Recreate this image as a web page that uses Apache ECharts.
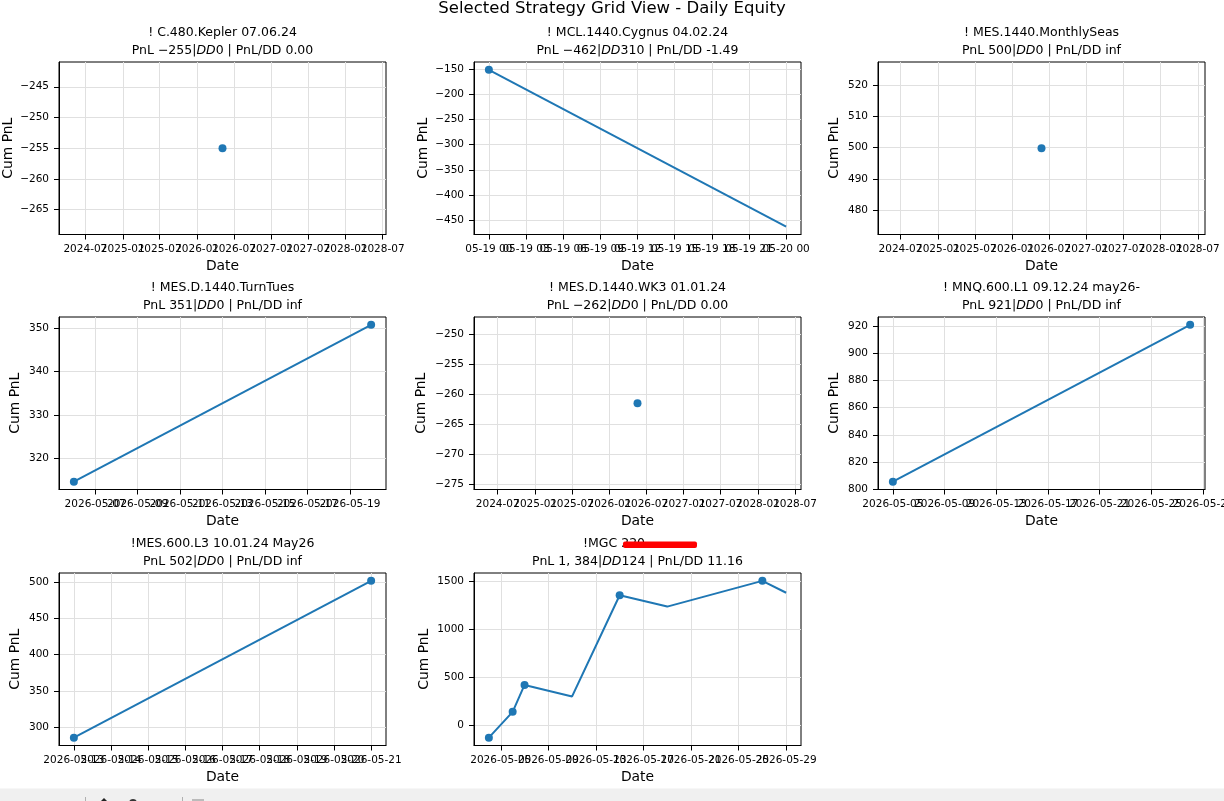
<!DOCTYPE html>
<html lang="en">
<head>
<meta charset="UTF-8">
<title>Selected Strategy Grid View - Daily Equity</title>
<style>
  html, body { margin: 0; padding: 0; background: #fff; }
  #main { width: 1224px; height: 801px; }
</style>
</head>
<body>
<div id="main"></div>
<script src="https://cdn.jsdelivr.net/npm/echarts@6/dist/echarts.min.js"></script>
<script>
// strategy headers, one per subplot (reading order)
var names = ['! C.480.Kepler 07.06.24', '! MCL.1440.Cygnus 04.02.24', '! MES.1440.MonthlySeas',
             '! MES.D.1440.TurnTues', '! MES.D.1440.WK3 01.01.24', '! MNQ.600.L1 09.12.24 may26-',
             '!MES.600.L3 10.01.24 May26', '!MGC 220'];
var pnlText   = ['\u2212255', '\u2212462', '500', '351', '\u2212262', '921', '502', '1, 384'];
var ddText    = ['0', '310', '0', '0', '0', '0', '0', '124'];
var ratioText = ['0.00', '-1.49', 'inf', 'inf', '0.00', 'inf', 'inf', '11.16'];

// daily equity per strategy, marks = 1 where a dot is drawn
var dates1 = ['2026-05-06'];
var cum1   = [-255];
var marks1 = [1];

var dates2 = ['2026-05-19 00:00', '2026-05-20 00:00'];
var cum2   = [-152, -462];
var marks2 = [1, 0];

var dates3 = ['2026-05-25'];
var cum3   = [499.8];
var marks3 = [1];

var dates4 = ['2026-05-06', '2026-05-20'];
var cum4   = [314.7, 350.7];
var marks4 = [1, 1];

var dates5 = ['2026-05-19'];
var cum5   = [-261.5];
var marks5 = [1];

var dates6 = ['2026-05-05', '2026-05-28'];
var cum6   = [805.6, 920.7];
var marks6 = [1, 1];

var dates7 = ['2026-05-13', '2026-05-21'];
var cum7   = [285.9, 501.6];
var marks7 = [1, 1];

var dates8 = ['2026-05-04', '2026-05-06', '2026-05-07', '2026-05-11', '2026-05-15', '2026-05-19', '2026-05-27', '2026-05-29'];
var cum8   = [-124, 145, 425, 305, 1358, 1240, 1508, 1384];
var marks8 = [1, 1, 1, 0, 1, 0, 1, 0];

// tick labels
var monthTicks = ['2024-07', '2025-01', '2025-07', '2026-01', '2026-07', '2027-01', '2027-07', '2028-01', '2028-07'];
var hourTicks  = ['05-19 00', '05-19 03', '05-19 06', '05-19 09', '05-19 12', '05-19 15', '05-19 18', '05-19 21', '05-20 00'];
var dayTicks2  = ['2026-05-07', '2026-05-09', '2026-05-11', '2026-05-13', '2026-05-15', '2026-05-17', '2026-05-19'];
var dayTicks4  = ['2026-05-05', '2026-05-09', '2026-05-13', '2026-05-17', '2026-05-21', '2026-05-25', '2026-05-29'];
var dayTicks1  = ['2026-05-13', '2026-05-14', '2026-05-15', '2026-05-16', '2026-05-17', '2026-05-18', '2026-05-19', '2026-05-20', '2026-05-21'];

var yTicks1 = [-265, -260, -255, -250, -245];
var yTicks2 = [-450, -400, -350, -300, -250, -200, -150];
var yTicks3 = [480, 490, 500, 510, 520];
var yTicks4 = [320, 330, 340, 350];
var yTicks5 = [-275, -270, -265, -260, -255, -250];
var yTicks6 = [800, 820, 840, 860, 880, 900, 920];
var yTicks7 = [300, 350, 400, 450, 500];
var yTicks8 = [0, 500, 1000, 1500];

var panels = [
  {dates: dates1, cum: cum1, marks: marks1, xt: monthTicks, yt: yTicks1},
  {dates: dates2, cum: cum2, marks: marks2, xt: hourTicks,  yt: yTicks2},
  {dates: dates3, cum: cum3, marks: marks3, xt: monthTicks, yt: yTicks3},
  {dates: dates4, cum: cum4, marks: marks4, xt: dayTicks2,  yt: yTicks4},
  {dates: dates5, cum: cum5, marks: marks5, xt: monthTicks, yt: yTicks5},
  {dates: dates6, cum: cum6, marks: marks6, xt: dayTicks4,  yt: yTicks6},
  {dates: dates7, cum: cum7, marks: marks7, xt: dayTicks1,  yt: yTicks7},
  {dates: dates8, cum: cum8, marks: marks8, xt: dayTicks4,  yt: yTicks8}
];

// layout
var colLeft = [59, 474, 878];
var rowTop = [62, 317, 573];
var plotW = 327, plotH = 172.5;
var yNameGap = [44, 44, 37, 37, 46, 37, 37, 43];
var TICK_FONT = 10.5;
var BLUE = '#1f77b4';
var DAY = 86400000;

function toTime(s) {
  var p = s.split(/[- :]/);
  return Date.UTC(+p[0], p[1] - 1, +p[2], +(p[3] || 0), +(p[4] || 0));
}
function tickTime(lbl) {
  var p = lbl.split(/[- ]/);
  if (lbl.length === 7) return Date.UTC(+p[0], p[1] - 1, 1);        // YYYY-MM
  if (lbl.length === 8) return Date.UTC(2026, p[0] - 1, +p[1], +p[2]); // MM-DD HH (year of the data)
  return Date.UTC(+p[0], p[1] - 1, +p[2]);                           // YYYY-MM-DD
}
function fmtNum(v) { return v < 0 ? '\u2212' + Math.abs(v) : String(v); }

// same autoscale as matplotlib: expand a single value, then 5% margins
function range(vals, single) {
  var lo = Math.min.apply(null, vals), hi = Math.max.apply(null, vals);
  if (lo === hi) { var e = single(lo); lo -= e; hi += e; }
  var m = (hi - lo) * 0.05;
  return [lo - m, hi + m];
}

var titles = [{
  text: 'Selected Strategy Grid View - Daily Equity',
  left: 612, top: 0, textAlign: 'center', padding: 0,
  textStyle: {fontSize: 16.5, fontWeight: 'normal', color: '#000', lineHeight: 17}
}];
var grids = [], xAxes = [], yAxes = [], series = [];

panels.forEach(function (p, i) {
  var r = Math.floor(i / 3), c = i % 3;
  var cx = colLeft[c] + plotW / 2;
  var ty = rowTop[r] - 37;

  titles.push({
    text: names[i], top: ty + 0.5, padding: 0,
    left: i === 7 ? 583 : cx, textAlign: i === 7 ? 'left' : 'center',
    textStyle: {fontSize: 12.5, fontWeight: 'normal', color: '#000', lineHeight: 15}
  });
  titles.push({
    text: 'PnL ' + pnlText[i] + '|{i|DD}' + ddText[i] + ' | PnL/DD ' + ratioText[i],
    top: ty + 18.5, left: cx, textAlign: 'center', padding: 0,
    textStyle: {fontSize: 12.5, fontWeight: 'normal', color: '#000', lineHeight: 15,
      rich: {i: {fontSize: 12.5, fontStyle: 'italic', color: '#000', lineHeight: 15}}}
  });

  grids.push({left: colLeft[c], top: rowTop[r], width: plotW, height: plotH,
    show: true, borderColor: '#000', borderWidth: 1, backgroundColor: 'transparent'});

  var ts = p.dates.map(toTime);
  var xr = range(ts, function () { return 730.5 * DAY; });
  var yr = range(p.cum, function (v) { return Math.abs(v) * 0.05 || 0.05; });
  p.xtv = p.xt.map(tickTime);

  xAxes.push({
    type: 'value', gridIndex: i, min: xr[0], max: xr[1],
    name: 'Date', nameLocation: 'middle', nameGap: 25,
    nameTextStyle: {fontSize: 13.9, color: '#000'},
    axisLine: {show: true, onZero: false, lineStyle: {color: '#000', width: 1}},
    axisTick: {show: true, length: 5, lineStyle: {color: '#000'}, customValues: p.xtv},
    // date labels are placed below (they overlap in the original and echarts would drop some)
    axisLabel: {show: false, customValues: p.xtv},
    splitLine: {show: true, lineStyle: {color: '#e0e0e0', width: 1}}
  });
  yAxes.push({
    type: 'value', gridIndex: i, min: yr[0], max: yr[1],
    name: 'Cum PnL', nameLocation: 'middle', nameGap: yNameGap[i],
    nameTextStyle: {fontSize: 13.9, color: '#000'},
    axisLine: {show: true, onZero: false, lineStyle: {color: '#000', width: 1}},
    axisTick: {show: true, length: 5, lineStyle: {color: '#000'}, customValues: p.yt},
    axisLabel: {customValues: p.yt, fontSize: TICK_FONT, color: '#000', margin: 10, formatter: fmtNum,
      interval: 0, showMinLabel: true, showMaxLabel: true},
    splitLine: {show: true, lineStyle: {color: '#e0e0e0', width: 1}}
  });

  var pts = ts.map(function (t, k) { return [t, p.cum[k]]; });
  series.push({
    type: 'line', xAxisIndex: i, yAxisIndex: i, data: pts,
    symbol: 'none', lineStyle: {color: BLUE, width: 2}, z: 3
  });
  series.push({
    type: 'scatter', xAxisIndex: i, yAxisIndex: i,
    data: pts.filter(function (d, k) { return p.marks[k]; }),
    symbolSize: 8, itemStyle: {color: BLUE, opacity: 1}, z: 4
  });
});

var myChart = echarts.init(document.getElementById('main'));
myChart.setOption({
  animation: false,
  backgroundColor: '#fff',
  textStyle: {fontFamily: 'DejaVu Sans'},
  title: titles,
  grid: grids,
  xAxis: xAxes,
  yAxis: yAxes,
  series: series
});

var graphics = [
  // redaction stroke over the last header
  {type: 'rect', shape: {x: 623, y: 541.5, width: 74, height: 6.5, r: 2}, style: {fill: '#ff0000'}, z: 100},
  // window toolbar strip at the bottom
  {type: 'rect', shape: {x: 0, y: 788.5, width: 1224, height: 13}, style: {fill: '#f0f0f0'}, z: 90},
  {type: 'line', shape: {x1: 85.5, y1: 797, x2: 85.5, y2: 801}, style: {stroke: '#b0b0b0', lineWidth: 1}, z: 91},
  {type: 'line', shape: {x1: 182.5, y1: 797, x2: 182.5, y2: 801}, style: {stroke: '#b0b0b0', lineWidth: 1}, z: 91},
  {type: 'polygon', shape: {points: [[104, 798], [101, 801], [107, 801]]}, style: {fill: '#222'}, z: 91},
  {type: 'circle', shape: {cx: 133, cy: 803, r: 4}, style: {fill: '#333'}, z: 91},
  {type: 'rect', shape: {x: 192, y: 799, width: 12, height: 2}, style: {fill: '#bbb'}, z: 91}
];

// x tick labels at the axis' own pixel positions, all kept even when they collide
panels.forEach(function (p, i) {
  var r = Math.floor(i / 3);
  p.xtv.forEach(function (t, k) {
    var px = myChart.convertToPixel({xAxisIndex: i}, t);
    graphics.push({
      type: 'text', z: 50,
      style: {text: p.xt[k], x: px, y: rowTop[r] + plotH + 14.5,
        align: 'center', verticalAlign: 'middle', textAlign: 'center', textVerticalAlign: 'middle',
        fontSize: TICK_FONT, fontFamily: 'DejaVu Sans', fill: '#000'}
    });
  });
});

myChart.setOption({graphic: graphics});
</script>
</body>
</html>
